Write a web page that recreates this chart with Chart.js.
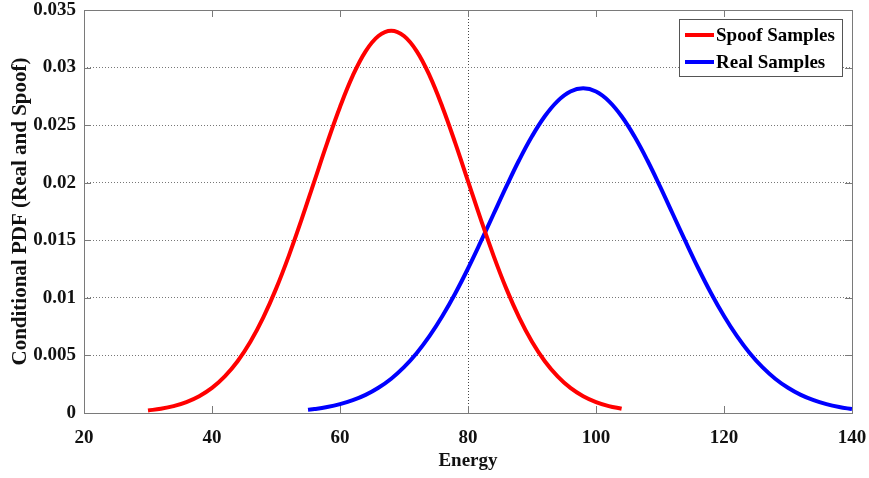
<!DOCTYPE html>
<html>
<head>
<meta charset="utf-8">
<script src="https://cdn.jsdelivr.net/npm/chart.js@4/dist/chart.umd.min.js"></script>
<style>
  html, body { margin: 0; padding: 0; background: #fff; }
  #wrap { width: 869px; height: 478px; }
</style>
</head>
<body>
<div id="wrap"><canvas id="pdfChart"></canvas></div>
<script>
// Spoof samples (energy, pdf)
const spoofX = [30, 32, 34, 36, 38, 40, 42, 44, 46, 48, 50, 52, 54, 56, 58, 60, 62, 64, 66, 68,
  70, 72, 74, 76, 78, 80, 82, 84, 86, 88, 90, 92, 94, 96, 98, 100, 102, 104];
const spoofY = [0.00022, 0.00037, 0.00060, 0.00095, 0.00146, 0.00218, 0.00318, 0.00449, 0.00618, 0.00828,
  0.01078, 0.01365, 0.01681, 0.02014, 0.02346, 0.02658, 0.02930, 0.03141, 0.03274, 0.03320,
  0.03274, 0.03141, 0.02930, 0.02658, 0.02346, 0.02014, 0.01681, 0.01365, 0.01078, 0.00828,
  0.00618, 0.00449, 0.00318, 0.00218, 0.00146, 0.00095, 0.00060, 0.00037];

// Real samples
const realX = [55, 56, 58, 60, 62, 64, 66, 68, 70, 72, 74, 76, 78, 80, 82, 84, 86, 88, 90, 92, 94, 96, 98,
  100, 102, 104, 106, 108, 110, 112, 114, 116, 118, 120, 122, 124, 126, 128, 130, 132, 134, 136, 138, 140];
const realY = [0.00028, 0.00034, 0.00052, 0.00077, 0.00111, 0.00157, 0.00219, 0.00298, 0.00398, 0.00521,
  0.00669, 0.00842, 0.01038, 0.01255, 0.01488, 0.01728, 0.01968, 0.02197, 0.02403, 0.02577, 0.02709,
  0.02792, 0.02820, 0.02792, 0.02709, 0.02577, 0.02403, 0.02197, 0.01968, 0.01728, 0.01488, 0.01255,
  0.01038, 0.00842, 0.00669, 0.00521, 0.00398, 0.00298, 0.00219, 0.00157, 0.00111, 0.00077, 0.00052, 0.00034];

const xTicks = [20, 40, 60, 80, 100, 120, 140];
const yTicks = [0, 0.005, 0.01, 0.015, 0.02, 0.025, 0.03, 0.035];
const yTickLabels = ['0', '0.005', '0.01', '0.015', '0.02', '0.025', '0.03', '0.035'];
const seriesNames = ['Spoof Samples', 'Real Samples'];

const serif = '"Liberation Serif", "Times New Roman", serif';
const frameColor = '#7a7a7a';

function pts(xs, ys) {
  return xs.map((x, i) => ({ x: x, y: ys[i] }));
}

// frame, inward ticks on all sides, legend box
const framePlugin = {
  id: 'frame',
  afterDatasetsDraw(chart) {
    const { ctx, chartArea: a, scales } = chart;
    ctx.save();
    ctx.strokeStyle = frameColor;
    ctx.lineWidth = 1;
    ctx.strokeRect(a.left + 0.5, a.top + 0.5, a.right - a.left, a.bottom - a.top);
    const tl = 7;
    ctx.beginPath();
    xTicks.forEach(v => {
      const px = Math.round(scales.x.getPixelForValue(v)) + 0.5;
      ctx.moveTo(px, a.bottom); ctx.lineTo(px, a.bottom - tl);
      ctx.moveTo(px, a.top); ctx.lineTo(px, a.top + tl);
    });
    yTicks.forEach(v => {
      const py = Math.round(scales.y.getPixelForValue(v)) + 0.5;
      ctx.moveTo(a.left, py); ctx.lineTo(a.left + tl, py);
      ctx.moveTo(a.right, py); ctx.lineTo(a.right - tl, py);
    });
    ctx.stroke();

    // legend
    const lx = a.right - 173, ly = a.top + 9, lw = 163, lh = 57;
    ctx.fillStyle = '#fff';
    ctx.fillRect(lx, ly, lw, lh);
    ctx.strokeStyle = '#555';
    ctx.strokeRect(lx + 0.5, ly + 0.5, lw, lh);
    ctx.font = 'bold 19px ' + serif;
    ctx.textBaseline = 'middle';
    chart.data.datasets.forEach((ds, i) => {
      const cy = ly + 16 + i * 27;
      ctx.strokeStyle = ds.borderColor;
      ctx.lineWidth = 4;
      ctx.beginPath();
      ctx.moveTo(lx + 6, cy); ctx.lineTo(lx + 35, cy);
      ctx.stroke();
      ctx.fillStyle = '#000';
      ctx.fillText(seriesNames[i], lx + 37, cy + 1);
    });
    ctx.restore();
  }
};

new Chart(document.getElementById('pdfChart'), {
  type: 'line',
  data: {
    datasets: [
      { label: seriesNames[0], data: pts(spoofX, spoofY), borderColor: '#ff0000', borderWidth: 4, pointRadius: 0, tension: 0.4, fill: false },
      { label: seriesNames[1], data: pts(realX, realY), borderColor: '#0000ff', borderWidth: 4, pointRadius: 0, tension: 0.4, fill: false }
    ]
  },
  options: {
    responsive: true,
    maintainAspectRatio: false,
    animation: false,
    layout: { padding: { top: 10, right: 17, left: 0, bottom: 0 } },
    plugins: {
      legend: { display: false },
      tooltip: { enabled: false }
    },
    scales: {
      x: {
        type: 'linear',
        min: 20,
        max: 140,
        afterBuildTicks: s => { s.ticks = xTicks.map(v => ({ value: v })); },
        afterFit: s => { s.height = 65; s.paddingLeft = 0; s.paddingRight = 0; },
        border: { display: false, dash: [1, 2] },
        grid: {
          drawTicks: false,
          color: c => (c.tick && c.tick.value === 80) ? '#444' : 'rgba(0,0,0,0)',
          lineWidth: 1
        },
        ticks: {
          color: '#111',
          font: { family: serif, size: 19, weight: 'bold' },
          padding: 14,
          maxRotation: 0
        },
        title: {
          display: true,
          text: 'Energy',
          color: '#111',
          font: { family: serif, size: 19, weight: 'bold' },
          padding: { top: 0, bottom: 6 }
        }
      },
      y: {
        min: 0,
        max: 0.035,
        afterBuildTicks: s => { s.ticks = yTicks.map(v => ({ value: v })); },
        afterFit: s => { s.width = 84; s.paddingTop = 0; s.paddingBottom = 0; },
        border: { display: false, dash: [1, 2] },
        grid: {
          drawTicks: false,
          color: c => (c.tick && c.tick.value > 0 && c.tick.value < 0.035) ? '#777' : 'rgba(0,0,0,0)',
          lineWidth: 1
        },
        ticks: {
          color: '#111',
          font: { family: serif, size: 19, weight: 'bold' },
          padding: 8,
          callback: (v, i) => yTickLabels[i]
        },
        title: {
          display: true,
          text: 'Conditional PDF (Real and Spoof)',
          color: '#111',
          font: { family: serif, size: 21, weight: 'bold' },
          padding: { top: 8, bottom: 0 }
        }
      }
    }
  },
  plugins: [framePlugin]
});
</script>
</body>
</html>
